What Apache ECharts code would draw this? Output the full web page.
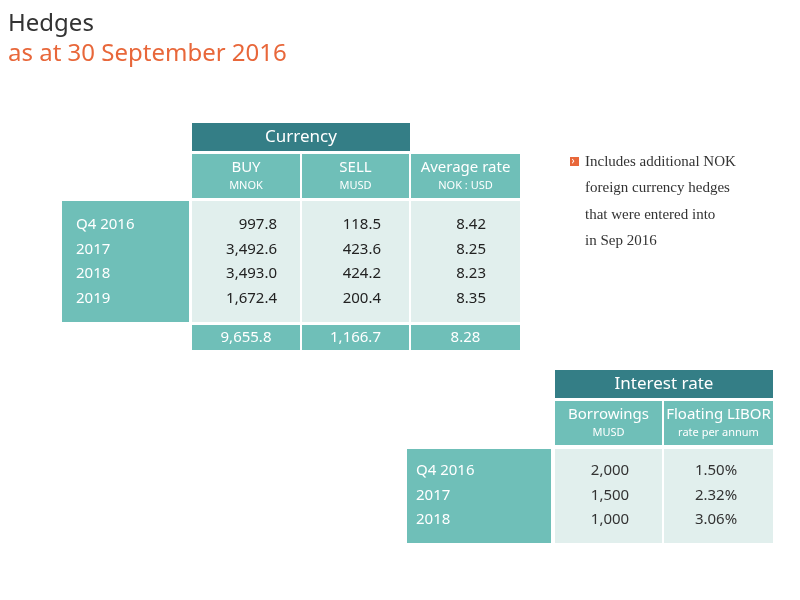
<!DOCTYPE html>
<html><head><meta charset="utf-8">
<script src="https://cdn.jsdelivr.net/npm/echarts@6/dist/echarts.min.js"></script>
<style>html,body{margin:0;background:#fff}#c{width:800px;height:600px}</style>
</head><body><div id="c"></div>
<script>
const curPeriods = ['Q4 2016','2017','2018','2019'];
const curBuy = ['997.8','3,492.6','3,493.0','1,672.4'];
const curSell = ['118.5','423.6','424.2','200.4'];
const curRate = ['8.42','8.25','8.23','8.35'];
const curTotals = ['9,655.8','1,166.7','8.28'];
const curHeads = [['BUY','MNOK'],['SELL','MUSD'],['Average rate','NOK : USD']];
const irPeriods = ['Q4 2016','2017','2018'];
const irBorrow = ['2,000','1,500','1,000'];
const irLibor = ['1.50%','2.32%','3.06%'];
const irHeads = [['Borrowings','MUSD'],['Floating LIBOR','rate per annum']];
const noteLines = ['Includes additional NOK','foreign currency hedges','that were entered into','in Sep 2016'];

const DARK='#347e86', MID='#6fbfb8', LIGHT='#e1efed', F='"Noto Sans", sans-serif';
const g=[];
function rect(x,y,w,h,c){g.push({type:'rect',shape:{x,y,width:w,height:h},style:{fill:c},silent:true});}
function txt(x,y,t,size,c,align,font){g.push({type:'text',x,y,style:{text:t,fontSize:size,fill:c,align:align||'left',verticalAlign:'middle',fontFamily:font||F}});}

txt(8,24,'Hedges',24,'#333');
txt(8,54,'as at 30 September 2016',24,'#e8673a');

// currency table
const cx=[192,302,411], cw=[108,107,109];
rect(192,123,218,28,DARK); txt(301,137,'Currency',17,'#fff','center');
curHeads.forEach((h,i)=>{rect(cx[i],154,cw[i],44,MID);txt(cx[i]+cw[i]/2,168,h[0],15,'#fff','center');txt(cx[i]+cw[i]/2,186,h[1],11,'#fff','center');});
rect(62,201,127,121,MID);
cx.forEach((x,i)=>rect(x,201,cw[i],121,LIGHT));
const cRight=[277,381,486];
curPeriods.forEach((p,r)=>{const y=225+r*24.5;txt(76,y,p,15,'#fff');
 [curBuy,curSell,curRate].forEach((a,i)=>txt(cRight[i],y,a[r],15,'#222','right'));});
curTotals.forEach((t,i)=>{rect(cx[i],325,cw[i],25,MID);txt(cx[i]+cw[i]/2,338,t,15,'#fff','center');});

// note
rect(570,157,9,9,'#e8673a');
txt(571.5,161.5,'›',10,'#fff','left');
noteLines.forEach((l,i)=>txt(585,162+i*26.5,l,15,'#333','left','"Liberation Serif", serif'));

// interest table
const ix=[555,664], iw=[107,109];
rect(555,370,218,28,DARK); txt(664,384,'Interest rate',17,'#fff','center');
irHeads.forEach((h,i)=>{rect(ix[i],401,iw[i],44,MID);txt(ix[i]+iw[i]/2,415,h[0],15,'#fff','center');txt(ix[i]+iw[i]/2,433,h[1],11,'#fff','center');});
rect(407,449,144,94,MID);
ix.forEach((x,i)=>rect(x,449,iw[i],94,LIGHT));
irPeriods.forEach((p,r)=>{const y=471+r*24.5;txt(416,y,p,15,'#fff');
 txt(610,y,irBorrow[r],15,'#333','center');txt(716,y,irLibor[r],15,'#333','center');});

const chart=echarts.init(document.getElementById('c'));
chart.setOption({animation:false,graphic:{elements:g}});
</script></body></html>
